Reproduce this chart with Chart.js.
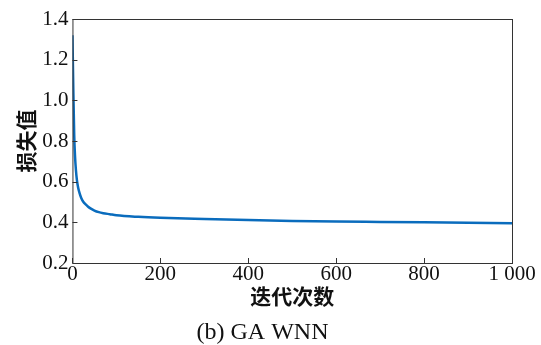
<!DOCTYPE html>
<html>
<head>
<meta charset="utf-8">
<script src="https://cdn.jsdelivr.net/npm/chart.js@4/dist/chart.umd.min.js"></script>
<style>
  html, body { margin: 0; padding: 0; background: #fff; }
  #wrap { width: 541px; height: 345px; position: relative; }
</style>
</head>
<body>
<div id="wrap"><canvas id="myChart"></canvas></div>
<script>
// iterations and loss values
const iterations = [0, 2, 4, 6, 8, 10, 13, 16, 20, 25, 30, 35, 40, 50, 60, 70, 85, 100, 150, 200, 300, 400, 500, 600, 700, 800, 900, 1000];
const lossValues = [1.32, 1.05, 0.83, 0.72, 0.655, 0.61, 0.57, 0.545, 0.52, 0.50, 0.488, 0.478, 0.47, 0.458, 0.45, 0.445, 0.44, 0.435, 0.427, 0.422, 0.416, 0.411, 0.407, 0.404, 0.402, 0.400, 0.398, 0.396];
const xTicks = [0, 200, 400, 600, 800, 1000];
const yTicks = [0.2, 0.4, 0.6, 0.8, 1.0, 1.2, 1.4];

const serif = "'Liberation Serif', 'DejaVu Serif', serif";
const cjk = "'Noto Sans CJK SC', sans-serif";

// box around plot + inward ticks on left and bottom
const frame = {
    id: 'frame',
    afterDraw(chart) {
        const ctx = chart.ctx;
        const a = chart.chartArea;
        const xs = chart.scales.x, ys = chart.scales.y;
        ctx.save();
        ctx.strokeStyle = '#333';
        ctx.lineWidth = 1;
        ctx.strokeRect(a.left + 0.5, a.top + 0.5, a.right - a.left, a.bottom - a.top);
        ctx.beginPath();
        xTicks.forEach(v => {
            const px = Math.round(xs.getPixelForValue(v)) + 0.5;
            ctx.moveTo(px, a.bottom);
            ctx.lineTo(px, a.bottom - 5);
        });
        yTicks.forEach(v => {
            const py = Math.round(ys.getPixelForValue(v)) + 0.5;
            ctx.moveTo(a.left, py);
            ctx.lineTo(a.left + 5, py);
        });
        ctx.stroke();
        ctx.restore();
    }
};

new Chart('myChart', {
    type: 'line',
    data: {
        datasets: [{
            data: iterations.map((x, i) => ({ x: x, y: lossValues[i] })),
            borderColor: '#0a6cbd',
            borderWidth: 2.5,
            pointRadius: 0,
            fill: false,
            cubicInterpolationMode: 'monotone'
        }]
    },
    options: {
        responsive: true,
        maintainAspectRatio: false,
        animation: false,
        layout: { padding: { left: 13, right: 29, top: 19, bottom: 0 } },
        plugins: {
            legend: { display: false },
            tooltip: { enabled: false },
            title: {
                display: true,
                position: 'bottom',
                text: '(b) GA WNN',
                color: '#111',
                font: { family: serif, size: 24, weight: 'normal', lineHeight: 1 },
                padding: { top: 14, bottom: 0 }
            }
        },
        scales: {
            x: {
                type: 'linear',
                min: 0,
                max: 1000,
                afterBuildTicks: s => { s.ticks = xTicks.map(v => ({ value: v })); },
                grid: { display: false, drawTicks: false },
                border: { display: false },
                ticks: {
                    color: '#111',
                    padding: 1,
                    maxRotation: 0,
                    font: { family: serif, size: 21, lineHeight: 1 },
                    callback: v => v === 1000 ? '1 000' : v
                },
                title: {
                    display: true,
                    text: '迭代次数',
                    color: '#111',
                    font: { family: cjk, size: 21, weight: 'bold', lineHeight: 1 },
                    padding: { top: 0, bottom: 0 }
                }
            },
            y: {
                min: 0.2,
                max: 1.4,
                afterBuildTicks: s => { s.ticks = yTicks.map(v => ({ value: v })); },
                grid: { display: false, drawTicks: false },
                border: { display: false },
                ticks: {
                    color: '#111',
                    padding: 4,
                    font: { family: serif, size: 21 },
                    callback: v => v.toFixed(1)
                },
                title: {
                    display: true,
                    text: '损失值',
                    color: '#111',
                    font: { family: cjk, size: 21, weight: 'bold' },
                    padding: { top: 0, bottom: 0 }
                }
            }
        }
    },
    plugins: [frame]
});
</script>
</body>
</html>
